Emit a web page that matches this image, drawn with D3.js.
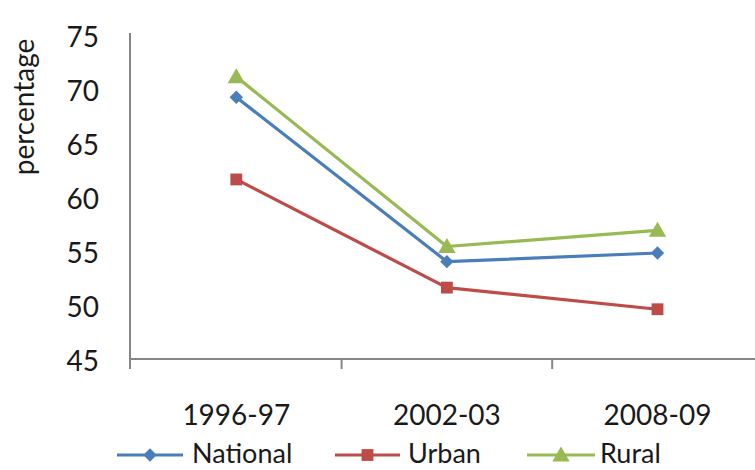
<!DOCTYPE html>
<html>
<head>
<meta charset="utf-8">
<script src="https://cdn.jsdelivr.net/npm/d3@7"></script>
<style>
  html, body { margin: 0; padding: 0; background: #ffffff; }
  svg { display: block; }
  text { font-family: Lato, "Open Sans", sans-serif; fill: #1a1a1a; }
</style>
</head>
<body>
<svg id="chart" width="755" height="470"></svg>
<script>
const categories = ["1996-97", "2002-03", "2008-09"];
const seriesNames = ["National", "Urban", "Rural"];
const nationalValues = [69.2, 54.0, 54.8];
const urbanValues = [61.6, 51.6, 49.6];
const ruralValues = [71.1, 55.4, 56.9];
const yTicks = [45, 50, 55, 60, 65, 70, 75];
const yTitle = "percentage";

const seriesValues = [nationalValues, urbanValues, ruralValues];
const colors = ["#4A7EBB", "#BE4B48", "#98B954"];
const markerColors = ["#4A7EBB", "#BE4B48", "#98B954"];
const symbols = [d3.symbolSquare, d3.symbolSquare, d3.symbolTriangle];
const symbolSizes = [90, 140, 130];
const rotations = [45, 0, 0];

const svg = d3.select("#chart");
const left = 131, bottom = 359;
const band = 210.6;

const x = d3.scaleBand().domain(categories).range([left, left + band * categories.length]).padding(0);
const y = d3.scaleLinear().domain([45, 75]).range([bottom, 34.5]);

// Y axis line
svg.append("line")
  .attr("x1", 130).attr("x2", 130)
  .attr("y1", y(75) - 1.5).attr("y2", bottom + 10)
  .attr("stroke", "#868686").attr("stroke-width", 2);

// Y tick labels
const yAxis = d3.axisLeft(y).tickValues(yTicks).tickSize(0).tickPadding(0);
const gy = svg.append("g").attr("transform", "translate(99,3)").call(yAxis);
gy.select(".domain").remove();
gy.selectAll("text")
  .style("font-family", "Lato, 'Open Sans', sans-serif")
  .style("font-size", "28px")
  .attr("fill", "#1a1a1a");

// X axis
const xAxis = d3.axisBottom(x).tickSize(0).tickPadding(0);
const gx = svg.append("g").attr("transform", `translate(0,${bottom})`).call(xAxis);
gx.select(".domain").remove();
gx.selectAll("text")
  .attr("y", 66)
  .attr("dy", 0)
  .style("font-family", "Lato, 'Open Sans', sans-serif")
  .style("font-size", "28px")
  .attr("fill", "#1a1a1a");

svg.append("line")
  .attr("x1", 129).attr("x2", 755)
  .attr("y1", bottom).attr("y2", bottom)
  .attr("stroke", "#868686").attr("stroke-width", 2);

// X tick marks at band boundaries
svg.selectAll(".xtick")
  .data(categories.slice(1))
  .enter().append("line")
  .attr("x1", d => x(d)).attr("x2", d => x(d))
  .attr("y1", bottom).attr("y2", bottom + 10)
  .attr("stroke", "#868686").attr("stroke-width", 2);

// Y title
svg.append("text")
  .attr("transform", "translate(34,107) rotate(-90)")
  .attr("text-anchor", "middle")
  .style("font-size", "28px")
  .text(yTitle);

// Lines and markers
const line = d3.line()
  .x((d, i) => x(categories[i]) + x.bandwidth() / 2)
  .y(d => y(d));

seriesValues.forEach((vals, s) => {
  svg.append("path")
    .datum(vals)
    .attr("d", line)
    .attr("fill", "none")
    .attr("stroke", colors[s])
    .attr("stroke-width", 3.2)
    .attr("stroke-linejoin", "round");
  svg.selectAll(".m" + s)
    .data(vals)
    .enter().append("path")
    .attr("transform", (d, i) => `translate(${x(categories[i]) + x.bandwidth() / 2},${y(d) + (s === 2 ? 1.5 : 0)}) rotate(${rotations[s]})`)
    .attr("d", d3.symbol().type(symbols[s]).size(symbolSizes[s]))
    .attr("fill", markerColors[s]);
});

// Legend
const legendItems = [
  { x1: 117, x2: 183, text: 192 },
  { x1: 335, x2: 400, text: 408 },
  { x1: 527, x2: 595, text: 600 }
];
const ly = 455;
seriesNames.forEach((name, s) => {
  const it = legendItems[s];
  svg.append("line")
    .attr("x1", it.x1).attr("x2", it.x2)
    .attr("y1", ly).attr("y2", ly)
    .attr("stroke", colors[s]).attr("stroke-width", 3.2);
  svg.append("path")
    .attr("transform", `translate(${(it.x1 + it.x2) / 2},${ly + (s === 2 ? 1.5 : 0)}) rotate(${rotations[s]})`)
    .attr("d", d3.symbol().type(symbols[s]).size(symbolSizes[s]))
    .attr("fill", markerColors[s]);
  svg.append("text")
    .attr("x", it.text).attr("y", 463)
    .style("font-size", "27px")
    .text(name);
});
</script>
</body>
</html>
